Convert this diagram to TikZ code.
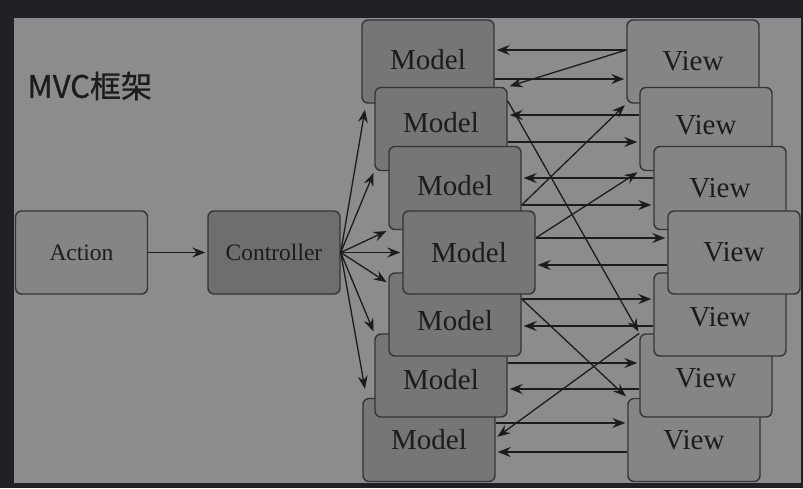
\documentclass[tikz,border=0pt]{standalone}
\usepackage{fontspec}
\setmainfont{Liberation Serif}
\newfontfamily\cjkfont[FakeBold=0.8]{Noto Sans CJK SC}
\usetikzlibrary{positioning,arrows.meta}

\definecolor{frame}{HTML}{202124}
\definecolor{panel}{HTML}{8C8C8C}
\definecolor{edge}{HTML}{353535}
\definecolor{ink}{HTML}{1C1C1C}
\definecolor{actionfill}{HTML}{858585}
\definecolor{ctrlfill}{HTML}{6E6E6E}
\definecolor{modelfill}{HTML}{767676}
\definecolor{viewfill}{HTML}{858585}

% label moved up or down inside its box
\newcommand{\lifted}[2]{\raisebox{#1}[\height][\depth]{#2}}

\begin{document}
\begin{tikzpicture}[shorten >=2pt,node distance=195pt,on grid,
    >={Stealth[length=13pt,width=10pt,inset=4.5pt]},
    link/.style={->,color=ink,line width=1.3pt},
    box/.style={draw=edge,line width=1.4pt,rounded corners=6pt,
                minimum width=132pt,minimum height=83pt,text=ink},
    small/.style={box,font=\fontsize{23.5}{24}\selectfont},
    model/.style={box,fill=modelfill,font=\fontsize{29}{30}\selectfont},
    view/.style={box,fill=viewfill,font=\fontsize{29}{30}\selectfont}]
    \fill[frame] (0,0) rectangle (803pt,-488pt);
    \fill[panel] (14pt,-18pt) rectangle (801pt,-483pt);
    \useasboundingbox (0,0) rectangle (803pt,-488pt);

    \node[anchor=west,text=ink,font=\cjkfont\fontsize{31}{32}\selectfont]
                         (title) at (24pt,-86pt) {MVC框架};
    \node[small,fill=actionfill] (action) at (81.5pt,-252.5pt) {Action};
    \node[small,fill=ctrlfill]   (ctrl)   [right=192.5pt of action] {Controller};

    % models, back to front
    \node[model] (m_1) [above right=191pt and 154pt of ctrl] {\lifted{2pt}{Model}};
    \node[model] (m_2) [below right=67.5pt and 13pt of m_1]  {\lifted{6pt}{Model}};
    \node[model] (m_3) [below right=59pt and 14pt of m_2]    {\lifted{2pt}{Model}};
    \node[model] (m_7) [below right=187.5pt and 155pt of ctrl] {Model};
    \node[model] (m_6) [above right=64.5pt and 12pt of m_7]  {\lifted{-4pt}{Model}};
    \node[model] (m_5) [above right=61pt and 14pt of m_6]    {\lifted{-6pt}{Model}};
    \node[model] (m_4) [right=of ctrl]                       {Model};

    % views
    \node[view] (v_1) [right=265pt of m_1] {View};
    \node[view] (v_2) [right=265pt of m_2] {\lifted{4pt}{View}};
    \node[view] (v_3) [right=265pt of m_3] {View};
    \node[view] (v_7) [right=265pt of m_7] {View};
    \node[view] (v_6) [right=265pt of m_6] {\lifted{-2.5pt}{View}};
    \node[view] (v_5) [right=265pt of m_5] {\lifted{-2.5pt}{View}};
    \node[view] (v_4) [right=265pt of m_4] {View};

    \path[link] (action) edge (ctrl);
    \path[link] (ctrl.east) edge ([shift={(4pt,-4pt)}]m_1.south west)
                            edge (m_2.south west)
                            edge (m_3.south west)
                            edge (m_4.west)
                            edge ([yshift=-11pt]m_5.north west)
                            edge (m_6.north west)
                            edge ([shift={(3pt,7pt)}]m_7.north west);

    \path[link] ([yshift=11.5pt]v_1.west) edge ([yshift=11.5pt]m_1.east)
                ([yshift=-17.5pt]m_1.east) edge ([yshift=-17.5pt]v_1.west)
                ([yshift=14pt]v_2.west) edge ([yshift=14pt]m_2.east)
                ([yshift=-13pt]m_2.east) edge ([yshift=-13pt]v_2.west)
                ([yshift=10pt]v_3.west) edge ([yshift=10pt]m_3.east)
                ([yshift=-17pt]m_3.east) edge ([yshift=-17pt]v_3.west)
                ([yshift=14.5pt]m_4.east) edge ([yshift=14.5pt]v_4.west)
                ([yshift=-12.5pt]v_4.west) edge ([yshift=-12.5pt]m_4.east)
                ([yshift=15.5pt]m_5.east) edge ([yshift=15.5pt]v_5.west)
                ([yshift=-11.5pt]v_5.west) edge ([yshift=-11.5pt]m_5.east)
                ([yshift=12.5pt]m_6.east) edge ([yshift=12.5pt]v_6.west)
                ([yshift=-13.5pt]v_6.west) edge ([yshift=-13.5pt]m_6.east)
                ([yshift=17pt]m_7.east) edge ([yshift=17pt]v_7.west)
                ([yshift=-12pt]v_7.west) edge ([yshift=-12pt]m_7.east);

    % crossing links
    \path[link] ([yshift=11.5pt]v_1.west) edge (m_2.north east)
                ([yshift=-17pt]m_3.east) edge (v_1.south west)
                ([yshift=14.5pt]m_4.east) edge (v_2.south west)
                ([yshift=-14pt]m_2.north east) edge (v_6.north west)
                ([yshift=15.5pt]m_5.east) edge (v_7.north west)
                (v_6.north west) edge ([yshift=2pt]m_7.east);
\end{tikzpicture}
\end{document}
